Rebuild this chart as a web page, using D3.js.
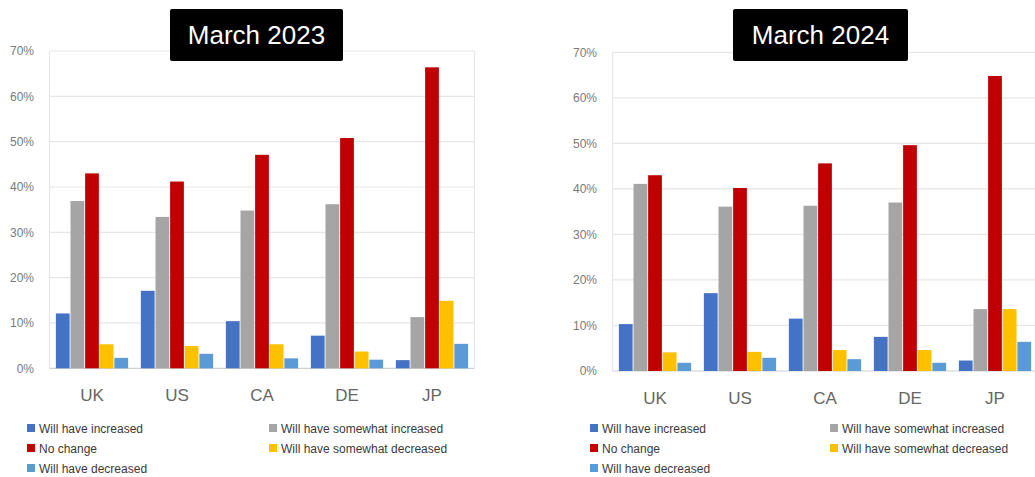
<!DOCTYPE html>
<html>
<head>
<meta charset="utf-8">
<script src="https://cdn.jsdelivr.net/npm/d3@7"></script>
<style>
  html, body { margin: 0; padding: 0; background: #fff; }
  svg { display: block; font-family: "Liberation Sans", Arial, sans-serif; }
</style>
</head>
<body>
<svg id="chart" width="1035" height="477"></svg>
<script>
const categories = ["UK", "US", "CA", "DE", "JP"];
const seriesNames = ["Will have increased", "Will have somewhat increased", "No change", "Will have somewhat decreased", "Will have decreased"];
const seriesColors = ["#4472C4", "#A5A5A5", "#C00000", "#FFC000", "#5B9BD5"];
const yTicks = [0, 0.1, 0.2, 0.3, 0.4, 0.5, 0.6, 0.7];

// March 2023 values per series (UK, US, CA, DE, JP)
const inc2023      = [0.121, 0.171, 0.104, 0.072, 0.018];
const someInc2023  = [0.369, 0.334, 0.348, 0.362, 0.113];
const noChange2023 = [0.430, 0.412, 0.471, 0.508, 0.664];
const someDec2023  = [0.053, 0.049, 0.053, 0.037, 0.149];
const dec2023      = [0.023, 0.032, 0.022, 0.019, 0.054];

// March 2024 values per series (UK, US, CA, DE, JP)
const inc2024      = [0.103, 0.171, 0.115, 0.075, 0.023];
const someInc2024  = [0.411, 0.361, 0.363, 0.370, 0.136];
const noChange2024 = [0.430, 0.402, 0.456, 0.496, 0.648];
const someDec2024  = [0.041, 0.042, 0.046, 0.046, 0.136];
const dec2024      = [0.018, 0.029, 0.026, 0.018, 0.064];

const panels = [
  { title: "March 2023", series: [inc2023, someInc2023, noChange2023, someDec2023, dec2023],
    x0: 49.5, w: 425, yTop: 51, yBot: 368.3, titleX0: 170, titleX1: 343,
    labelRight: 34, leg1: 27, leg2: 269 },
  { title: "March 2024", series: [inc2024, someInc2024, noChange2024, someDec2024, dec2024],
    x0: 612.5, w: 425, yTop: 52.3, yBot: 371, titleX0: 733, titleX1: 908,
    labelRight: 597, leg1: 590, leg2: 830 }
];

const svg = d3.select("#chart");

panels.forEach(p => {
  const g = svg.append("g");
  const x = d3.scaleBand().domain(categories).range([p.x0, p.x0 + p.w]).paddingInner(0.15).paddingOuter(0.075);
  const xs = d3.scaleBand().domain(d3.range(seriesNames.length)).range([0, x.bandwidth()]).paddingInner(0.06);
  const y = d3.scaleLinear().domain([0, 0.7]).range([p.yBot, p.yTop]);

  // gridlines
  g.selectAll("line.grid").data(yTicks).join("line")
    .attr("x1", p.x0).attr("x2", p.x0 + p.w)
    .attr("y1", d => y(d)).attr("y2", d => y(d))
    .attr("stroke", d => d === 0 ? "#cfcfcf" : "#e6e6e6").attr("stroke-width", 1.2);
  // plot border sides
  g.append("line").attr("x1", p.x0).attr("x2", p.x0).attr("y1", y(0.7)).attr("y2", y(0))
    .attr("stroke", "#e6e6e6").attr("stroke-width", 1.2);
  g.append("line").attr("x1", p.x0 + p.w).attr("x2", p.x0 + p.w).attr("y1", y(0.7)).attr("y2", y(0))
    .attr("stroke", "#e6e6e6").attr("stroke-width", 1.2);

  // y axis labels
  const yAxis = d3.axisLeft(y).tickValues(yTicks).tickFormat(d3.format(".0%")).tickSize(0).tickPadding(0);
  const ya = g.append("g").attr("transform", `translate(${p.labelRight},0)`).call(yAxis);
  ya.select(".domain").remove();
  ya.selectAll("text").attr("fill", "#7a7a7a").attr("font-size", 12).attr("font-family", "Liberation Sans, Arial, sans-serif");

  // bars
  p.series.forEach((vals, si) => {
    g.selectAll(null).data(categories).join("rect")
      .attr("x", d => x(d) + xs(si))
      .attr("width", xs.bandwidth())
      .attr("y", (d, i) => y(vals[i]))
      .attr("height", (d, i) => y(0) - y(vals[i]))
      .attr("fill", seriesColors[si]);
  });

  // x axis labels
  const xAxis = d3.axisBottom(x).tickSize(0).tickPadding(0);
  const xa = g.append("g").attr("transform", `translate(0,${p.yBot + 21})`).call(xAxis);
  xa.select(".domain").remove();
  xa.selectAll("text").attr("fill", "#666").attr("font-size", 17).attr("font-family", "Liberation Sans, Arial, sans-serif");

  // title box
  g.append("rect").attr("x", p.titleX0).attr("y", 9).attr("width", p.titleX1 - p.titleX0).attr("height", 52)
    .attr("rx", 2).attr("fill", "#000");
  g.append("text").attr("x", (p.titleX0 + p.titleX1) / 2).attr("y", 44).attr("text-anchor", "middle")
    .attr("fill", "#fff").attr("font-size", 26).text(p.title);

  // legend
  const legPos = [[p.leg1, 428], [p.leg2, 428], [p.leg1, 448], [p.leg2, 448], [p.leg1, 468]];
  const order = [0, 1, 2, 3, 4];
  order.forEach((si, k) => {
    const [lx, ly] = legPos[k];
    g.append("rect").attr("x", lx).attr("y", ly - 4).attr("width", 8).attr("height", 8).attr("fill", seriesColors[si]);
    g.append("text").attr("x", lx + 12).attr("y", ly + 4.5).attr("font-size", 12).attr("fill", "#3a3a3a")
      .text(seriesNames[si]);
  });
});
</script>
</body>
</html>
